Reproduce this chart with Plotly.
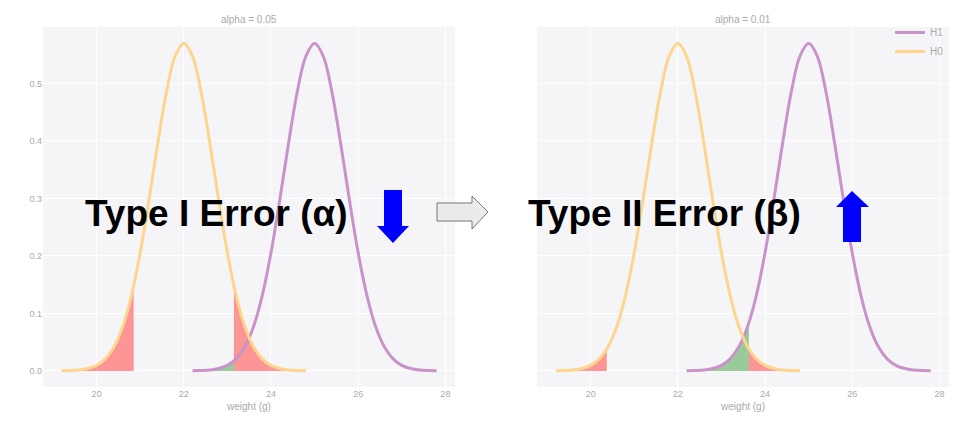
import plotly.graph_objects as go
from plotly.subplots import make_subplots

# Density curves (weight in g, density)
h0_x = [19.2, 19.4, 19.6, 19.8, 20.0, 20.2, 20.4, 20.6, 20.8, 21.0, 21.2, 21.4, 21.6, 21.8,
        22.0, 22.2, 22.4, 22.6, 22.8, 23.0, 23.2, 23.4, 23.6, 23.8, 24.0, 24.2, 24.4, 24.6, 24.8]
h0_y = [0.0002, 0.0006, 0.0016, 0.0041, 0.0096, 0.0209, 0.0418, 0.0771, 0.1311, 0.2054,
        0.2966, 0.3947, 0.4841, 0.5471, 0.5699, 0.5471, 0.4841, 0.3947, 0.2966, 0.2054,
        0.1311, 0.0771, 0.0418, 0.0209, 0.0096, 0.0041, 0.0016, 0.0006, 0.0002]
h1_x = [22.2, 22.4, 22.6, 22.8, 23.0, 23.2, 23.4, 23.6, 23.8, 24.0, 24.2, 24.4, 24.6, 24.8,
        25.0, 25.2, 25.4, 25.6, 25.8, 26.0, 26.2, 26.4, 26.6, 26.8, 27.0, 27.2, 27.4, 27.6, 27.8]
h1_y = [0.0002, 0.0006, 0.0016, 0.0041, 0.0096, 0.0209, 0.0418, 0.0771, 0.1311, 0.2054,
        0.2966, 0.3947, 0.4841, 0.5471, 0.5699, 0.5471, 0.4841, 0.3947, 0.2966, 0.2054,
        0.1311, 0.0771, 0.0418, 0.0209, 0.0096, 0.0041, 0.0016, 0.0006, 0.0002]

# one entry per panel
alpha_labels = ["alpha = 0.05", "alpha = 0.01"]
crit_lo = [20.85, 20.37]
crit_hi = [23.15, 23.63]
h0_at_crit = [0.148, 0.038]
h1_at_crit = [0.017, 0.084]
error_labels = ["Type I Error (\u03b1)", "Type II Error (\u03b2)"]

x_ticks = [20, 22, 24, 26, 28]
y_ticks = [0.0, 0.1, 0.2, 0.3, 0.4, 0.5]

W, H = 980, 428
ML, MR, MT, MB = 43, 31, 27, 41

PURPLE = "#C893C9"
ORANGE = "#FFD48C"
RED = "rgba(255,70,70,0.55)"
GREEN = "rgba(60,160,60,0.5)"
GREY = "#AAAAAA"
FONT = "Liberation Sans, Arial, sans-serif"


def px(x, y):
    """pixel position in the 980x428 window -> paper coords"""
    return (x - ML) / (W - ML - MR), 1 - (y - MT) / (H - MT - MB)


def path(points):
    parts = []
    for i, (x, y) in enumerate(points):
        a, b = px(x, y)
        parts.append(("M" if i == 0 else "L") + f"{a:.5f},{b:.5f}")
    return " ".join(parts) + " Z"


fig = make_subplots(rows=1, cols=2, subplot_titles=alpha_labels, horizontal_spacing=0.0906)

for i in range(2):
    col = i + 1
    lo, hi = crit_lo[i], crit_hi[i]

    # beta region under H1 left of the upper cut
    bx = [x for x in h1_x if x < hi] + [hi]
    by = [y for x, y in zip(h1_x, h1_y) if x < hi] + [h1_at_crit[i]]
    fig.add_trace(go.Scatter(x=bx, y=by, fill="tozeroy", fillcolor=GREEN, mode="lines",
                             line=dict(width=0, shape="spline"), showlegend=False,
                             hoverinfo="skip"), row=1, col=col)

    # alpha regions, both tails of H0
    lx = [x for x in h0_x if x < lo] + [lo]
    ly = [y for x, y in zip(h0_x, h0_y) if x < lo] + [h0_at_crit[i]]
    fig.add_trace(go.Scatter(x=lx, y=ly, fill="tozeroy", fillcolor=RED, mode="lines",
                             line=dict(width=0, shape="spline"), showlegend=False,
                             hoverinfo="skip"), row=1, col=col)
    ux = [hi] + [x for x in h0_x if x > hi]
    uy = [h0_at_crit[i]] + [y for x, y in zip(h0_x, h0_y) if x > hi]
    fig.add_trace(go.Scatter(x=ux, y=uy, fill="tozeroy", fillcolor=RED, mode="lines",
                             line=dict(width=0, shape="spline"), showlegend=False,
                             hoverinfo="skip"), row=1, col=col)

    fig.add_trace(go.Scatter(x=h1_x, y=h1_y, mode="lines", name="H1",
                             line=dict(color=PURPLE, width=3, shape="spline"),
                             showlegend=(i == 1)), row=1, col=col)
    fig.add_trace(go.Scatter(x=h0_x, y=h0_y, mode="lines", name="H0",
                             line=dict(color=ORANGE, width=3, shape="spline"),
                             showlegend=(i == 1)), row=1, col=col)

fig.update_xaxes(range=[18.77, 28.22], tickvals=x_ticks, showgrid=True, gridcolor="white",
                 gridwidth=1, zeroline=False, showline=False, ticks="",
                 tickfont=dict(size=9, color=GREY), title_text="weight (g)",
                 title_font=dict(size=10, color=GREY), title_standoff=4)
fig.update_yaxes(range=[-0.028, 0.598], tickvals=y_ticks, tickformat=".1f", showgrid=True,
                 gridcolor="white", gridwidth=1, zeroline=False, showline=False, ticks="",
                 tickfont=dict(size=9, color=GREY))
fig.update_yaxes(showticklabels=False, row=1, col=2)

for ann in fig.layout.annotations:
    ann.font = dict(size=10, color=GREY, family=FONT)

# big labels
for cx, label in zip([216, 664], error_labels):
    ax, ay = px(cx, 213)
    fig.add_annotation(x=ax, y=ay, xref="paper", yref="paper", text=f"<b>{label}</b>",
                       showarrow=False, xanchor="center", yanchor="middle",
                       font=dict(size=37, color="black", family=FONT))

shapes = [
    # blue arrow pointing down
    dict(type="path", path=path([(384, 190), (402, 190), (402, 226), (409, 226), (393, 243),
                                 (377, 226), (384, 226)]),
         fillcolor="#0000FF", line=dict(width=0)),
    # blue arrow pointing up
    dict(type="path", path=path([(843, 242), (861, 242), (861, 207), (869, 207), (852, 191),
                                 (836, 207), (843, 207)]),
         fillcolor="#0000FF", line=dict(width=0)),
    # grey arrow between panels
    dict(type="path", path=path([(437, 203), (472, 203), (472, 196), (488, 212), (472, 229),
                                 (472, 221), (437, 221)]),
         fillcolor="#EBEBEB", line=dict(color="#777777", width=1)),
]
for s in shapes:
    s.update(xref="paper", yref="paper", layer="above")

fig.update_layout(
    width=W, height=H,
    margin=dict(l=ML, r=MR, t=MT, b=MB),
    template="none",
    paper_bgcolor="white",
    plot_bgcolor="#F5F5F8",
    font=dict(family=FONT, color=GREY, size=10),
    shapes=shapes,
    legend=dict(x=1, y=1.025, xanchor="right", yanchor="top", bgcolor="rgba(0,0,0,0)",
                font=dict(size=10, color=GREY)),
)

fig.write_html("out.html", config={"displayModeBar": False},
               post_script="document.body.style.margin = '0';")
